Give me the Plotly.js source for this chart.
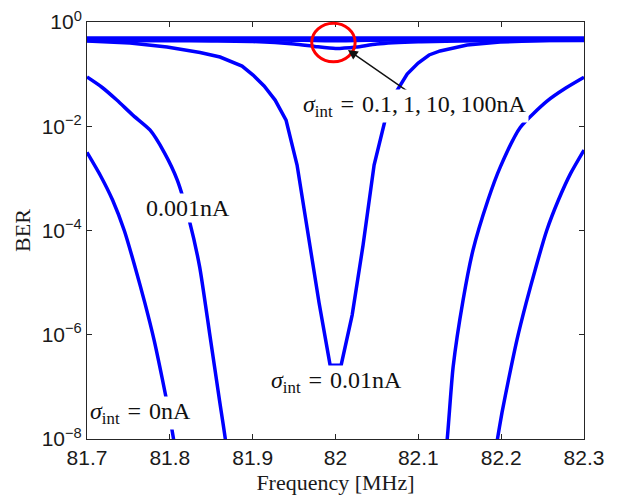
<!DOCTYPE html>
<html>
<head>
<meta charset="utf-8">
<script src="https://cdn.plot.ly/plotly-3.0.1.min.js"></script>
<style>
  html, body { margin: 0; padding: 0; background: #ffffff; }
  #chart { width: 622px; height: 496px; }
</style>
</head>
<body>
<div id="chart"></div>
<script>
// BER versus frequency for several interference levels (sigma_int)

// sigma_int = 0 nA : two steep branches on either side of 82 MHz
const freq0L = [81.700, 81.716, 81.731, 81.745, 81.758, 81.770, 81.781, 81.791, 81.799, 81.805, 81.812];
const ber0L  = [3.16e-3, 1.15e-3, 3.8e-4, 1.0e-4, 2.0e-5, 4.0e-6, 7.9e-7, 1.4e-7, 3.2e-8, 8.9e-9, 1.6e-9];
const freq0R = [82.188, 82.195, 82.201, 82.209, 82.219, 82.230, 82.242, 82.255, 82.269, 82.284, 82.300];
const ber0R  = [1.6e-9, 8.9e-9, 3.2e-8, 1.4e-7, 7.9e-7, 4.0e-6, 2.0e-5, 1.0e-4, 3.8e-4, 1.26e-3, 3.5e-3];

// sigma_int = 0.001 nA
const freq001L = [81.700, 81.718, 81.736, 81.756, 81.776, 81.793, 81.809, 81.824, 81.836, 81.848, 81.860, 81.867, 81.874];
const ber001L  = [0.088, 0.056, 0.0318, 0.0160, 8.5e-3, 3.2e-3, 9.3e-4, 1.45e-4, 2.0e-5, 1.07e-6, 5.5e-8, 1.0e-8, 1.0e-9];
const freq001R = [82.128, 82.135, 82.142, 82.154, 82.166, 82.184, 82.199, 82.223, 82.255, 82.278, 82.300];
const ber001R  = [1.0e-9, 1.05e-8, 2.4e-7, 4.6e-6, 4.2e-5, 3.8e-4, 1.66e-3, 9.5e-3, 0.0300, 0.054, 0.087];

// sigma_int = 0.01 nA : deep notch centred on 82 MHz
const freq01 = [81.7000, 81.7519, 81.7966, 81.8365, 81.8606, 81.8739, 81.8872, 81.9005, 81.9138, 81.9271,
                81.9403, 81.9536, 81.9669, 81.9802, 81.9935,
                82.0068, 82.0201, 82.0333, 82.0466, 82.0599, 82.0732, 82.0865, 82.0998, 82.1130, 82.1263,
                82.1589, 82.1988, 82.2471, 82.3000];
const ber01  = [0.432, 0.395, 0.331, 0.260, 0.213, 0.178, 0.143, 0.0961, 0.0591, 0.0318,
                0.0131, 1.80e-3, 8.2e-5, 4.05e-6, 2.61e-7,
                2.61e-7, 2.38e-6, 5.25e-5, 1.80e-3, 0.0131, 0.0453, 0.1005, 0.163, 0.233, 0.278,
                0.362, 0.413, 0.442, 0.472];

// sigma_int = 0.1, 1, 10, 100 nA : nearly flat close to 0.5
const freqHi = [81.70, 81.80, 81.85, 81.90, 81.95, 81.975, 82.00, 82.025, 82.05, 82.10, 82.15, 82.20, 82.30];
const ber1   = [0.442, 0.437, 0.432, 0.422, 0.378, 0.339, 0.310, 0.331, 0.378, 0.417, 0.432, 0.437, 0.442];
const ber10  = [0.455, 0.455, 0.454, 0.452, 0.447, 0.441, 0.437, 0.441, 0.447, 0.452, 0.454, 0.455, 0.455];
const ber100 = [0.472, 0.472, 0.472, 0.471, 0.470, 0.469, 0.468, 0.469, 0.470, 0.471, 0.472, 0.472, 0.472];
const ber1000= [0.493, 0.493, 0.493, 0.493, 0.493, 0.493, 0.493, 0.493, 0.493, 0.493, 0.493, 0.493, 0.493];

// axis ticks
const xTicks = [81.7, 81.8, 81.9, 82.0, 82.1, 82.2, 82.3];
const xTickText = ['81.7', '81.8', '81.9', '82', '82.1', '82.2', '82.3'];
const yTicks = [1, 1e-2, 1e-4, 1e-6, 1e-8];
const yTickText = ['10<sup>0</sup>', '10<sup>\u22122</sup>', '10<sup>\u22124</sup>', '10<sup>\u22126</sup>', '10<sup>\u22128</sup>'];

const blue = '#0000ff';
const lw = 3.5;
function curve(x, y, shape) {
  return { x: x, y: y, type: 'scatter', mode: 'lines', hoverinfo: 'skip',
           line: { color: blue, width: lw, shape: shape || 'spline', smoothing: 0.6 } };
}

const traces = [
  curve(freqHi, ber1000), curve(freqHi, ber100), curve(freqHi, ber10), curve(freqHi, ber1),
  curve(freq01, ber01, 'linear'),
  curve(freq001L, ber001L), curve(freq001R, ber001R),
  curve(freq0L, ber0L), curve(freq0R, ber0R)
];

const serif = 'Liberation Serif, Times New Roman, serif';
const sans = 'Liberation Sans, Arial, Helvetica, sans-serif';
const axisColor = '#262626';
const eq = '\u2004=\u2004';

function label(text, x, logy) {
  return { text: text, x: x, y: logy, xref: 'x', yref: 'y', showarrow: false,
           font: { family: serif, size: 24, color: '#111111' },
           bgcolor: '#ffffff', borderpad: 1, xanchor: 'center', yanchor: 'middle' };
}

const layout = {
  width: 622, height: 496,
  margin: { l: 87, r: 38, t: 22, b: 57 },
  paper_bgcolor: '#ffffff', plot_bgcolor: '#ffffff',
  showlegend: false,
  xaxis: {
    range: [81.7, 82.3], tickvals: xTicks, ticktext: xTickText,
    ticks: 'inside', ticklen: 5, tickwidth: 1, tickcolor: axisColor,
    showline: true, linecolor: axisColor, linewidth: 1, mirror: 'ticks',
    showgrid: false, zeroline: false,
    tickfont: { family: sans, size: 21, color: '#1a1a1a' },
    title: { text: 'Frequency [MHz]', font: { family: serif, size: 22, color: '#1a1a1a' }, standoff: 6 }
  },
  yaxis: {
    type: 'log', range: [-8, 0], tickvals: yTicks, ticktext: yTickText,
    ticks: 'inside', ticklen: 5, tickwidth: 1, tickcolor: axisColor,
    showline: true, linecolor: axisColor, linewidth: 1, mirror: 'ticks',
    showgrid: false, zeroline: false,
    tickfont: { family: sans, size: 21, color: '#1a1a1a' },
    title: { text: 'BER', font: { family: serif, size: 22, color: '#1a1a1a' }, standoff: 4 }
  },
  shapes: [
    // red ring marking the shallow dip near 82 MHz
    { type: 'circle', xref: 'x', yref: 'paper', x0: 81.9713, x1: 82.0237, y0: 0.9048, y1: 0.9969,
      line: { color: '#ff0000', width: 3 } }
  ],
  annotations: [
    { x: 82.015, y: -0.537, xref: 'x', yref: 'y', text: '', showarrow: true,
      ax: 62, ay: 43, arrowhead: 2, arrowsize: 1.4, arrowwidth: 1.4, arrowcolor: '#111111', standoff: 0 },
    label('<i>\u03c3</i><sub>int</sub>' + eq + '0.1,\u20091,\u200910,\u2009100nA', 82.096, -1.612),
    label('0.001nA', 81.822, -3.57),
    label('<i>\u03c3</i><sub>int</sub>' + eq + '0.01nA', 82.0007, -6.91),
    label('<i>\u03c3</i><sub>int</sub>' + eq + '0nA', 81.765, -7.505)
  ]
};

Plotly.newPlot('chart', traces, layout, { staticPlot: true, displayModeBar: false });
</script>
</body>
</html>
